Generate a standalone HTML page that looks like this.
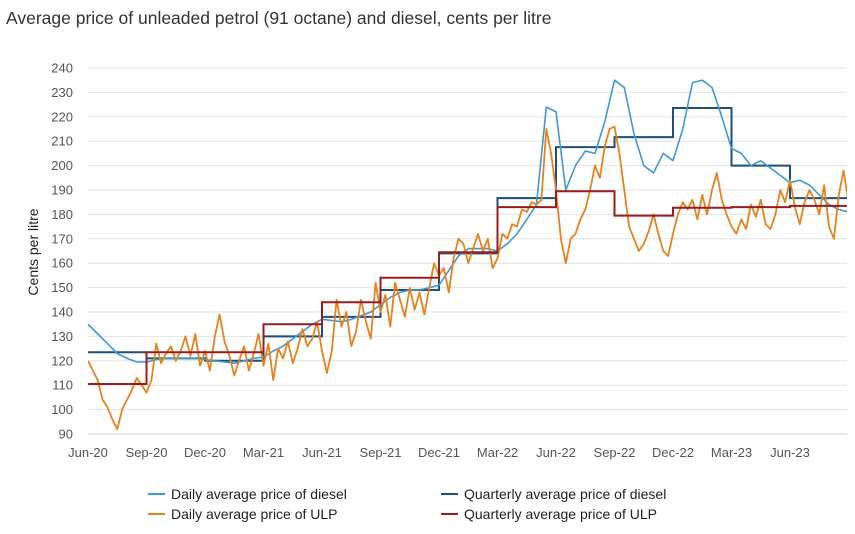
<!DOCTYPE html>
<html><head><meta charset="utf-8"><style>
body{margin:0;background:#fff;font-family:"Liberation Sans",sans-serif}
svg text{font-family:"Liberation Sans",sans-serif}
</style></head><body>
<svg id="c" width="855" height="529">
<text x="6" y="24" font-size="17.5" fill="#333">Average price of unleaded petrol (91 octane) and diesel, cents per litre</text>
<text transform="translate(38,252) rotate(-90)" text-anchor="middle" font-size="14" fill="#222">Cents per litre</text>
<g id="grid"></g><g id="marks"></g><g id="legend"></g>
</svg>
<script>
const yTicks=[90,100,110,120,130,140,150,160,170,180,190,200,210,220,230,240];
const xLabels=["Jun-20","Sep-20","Dec-20","Mar-21","Jun-21","Sep-21","Dec-21","Mar-22","Jun-22","Sep-22","Dec-22","Mar-23","Jun-23"];
// diesel daily, every half month from Jun-20
const dieselDaily=[135,131,127,123,121,119.5,119.5,120.5,121,121,121,121,120.5,120,119.5,119,120,121,121.5,124,126,129,132,135,137,136.5,136,137,138.5,140,143,146,148,149,149,150,151,157,163,166,166,166,165,168,172,178,184,224,222,190,200,206,205,218,235,232,213,200,197,205,202,215,234,235,232,220,207,205,200,202,199,196,193,194,192,188,184,182,181];
// ULP daily, every quarter month from Jun-20
const ulpDaily=[120,116,112,104,101,96,92,100,104,108,113,110,107,112,127,119,123,126,120,124,130,122,131,118,124,116,130,139,128,122,114,120,126,116,123,131,118,127,112,125,121,128,119,125,133,126,129,136,124,115,124,145,134,140,126,132,145,136,129,152,140,147,134,152,145,138,150,141,148,139,150,160,155,158,148,162,170,168,160,166,172,165,170,158,162,172,170,176,175,182,181,185,184,186,215,205,190,170,160,170,172,178,182,190,200,195,208,215,216,205,190,175,170,165,168,173,180,172,165,163,172,180,185,182,186,178,188,180,190,197,186,180,175,172,178,174,184,179,186,176,174,180,190,185,194,183,176,185,190,186,180,192,175,170,188,198,185,172];
const dieselQ=[123.5,121,120,130,138,149,164,186.7,207.6,211.7,223.6,200,186.7];
const ulpQ=[110.5,123.5,123.5,135,144,154,164.5,183,189.5,179.5,182.7,183,183.5];
const L=88,R=847,T=68,B=434;
const x=m=>L+m*19.5;
const y=v=>B-(v-90)*(B-T)/150;
const NS="http://www.w3.org/2000/svg";
function mk(t,a,p){const e=document.createElementNS(NS,t);for(const k in a)e.setAttribute(k,a[k]);p.appendChild(e);return e;}
const g=document.getElementById('grid'),mg=document.getElementById('marks'),lg=document.getElementById('legend');
yTicks.forEach(v=>{
 const ln=mk('line',{x1:L,x2:R,y1:y(v),y2:y(v),stroke:v==90?'#c5d3e3':'#e3e3e3','stroke-width':1},g);
 
 
 const t=mk('text',{x:73,y:y(v)+4.5,'text-anchor':'end','font-size':13,fill:'#555'},g);t.textContent=v;
 
 
});
xLabels.forEach((s,i)=>{
 const t=mk('text',{x:x(i*3),y:457,'text-anchor':'middle','font-size':13,fill:'#555'},g);t.textContent=s;
 
 
});
const cp=mk('clipPath',{id:'clip'},mk('defs',{},mg));mk('rect',{x:L,y:0,width:R-L,height:B},cp);
function series(vals,step,col,w,name){
 const d=vals.map((v,i)=>(i?'L':'M')+x(i*step).toFixed(1)+','+y(v).toFixed(1)).join('');
 const p=mk('path',{d,fill:'none',stroke:col,'stroke-width':w,'stroke-linejoin':'round','clip-path':'url(#clip)'},mg);
 
 
}
function steps(vals,col,name){
 let d='';vals.forEach((v,i)=>{const x0=x(i*3),x1=Math.min(x((i+1)*3),R);d+=(i?'L':'M')+x0.toFixed(1)+','+y(v).toFixed(1)+'L'+x1.toFixed(1)+','+y(v).toFixed(1);});
 const p=mk('path',{d,fill:'none',stroke:col,'stroke-width':2,'clip-path':'url(#clip)'},mg);
 
 
}
steps(dieselQ,'#1f4e79','quarterly-diesel-line');
series(dieselDaily,0.5,'#3d9ad6',1.6,'daily-diesel-line');
series(ulpDaily,0.25,'#e5821e',1.8,'daily-ulp-line');
steps(ulpQ,'#9b1b1e','quarterly-ulp-line');
const leg=[["Daily average price of diesel",'#3d9ad6',148,494],["Quarterly average price of diesel",'#1f4e79',441,494],["Daily average price of ULP",'#e5821e',148,514],["Quarterly average price of ULP",'#9b1b1e',441,514]];
leg.forEach(([s,c,lx,ly])=>{
 const gg=mk('g',{},lg);
 
 
 mk('line',{x1:lx,x2:lx+17,y1:ly,y2:ly,stroke:c,'stroke-width':2},gg);
 const t=mk('text',{x:lx+23,y:ly+5,'font-size':14,fill:'#222'},gg);t.textContent=s;
});
</script>
</body></html>
